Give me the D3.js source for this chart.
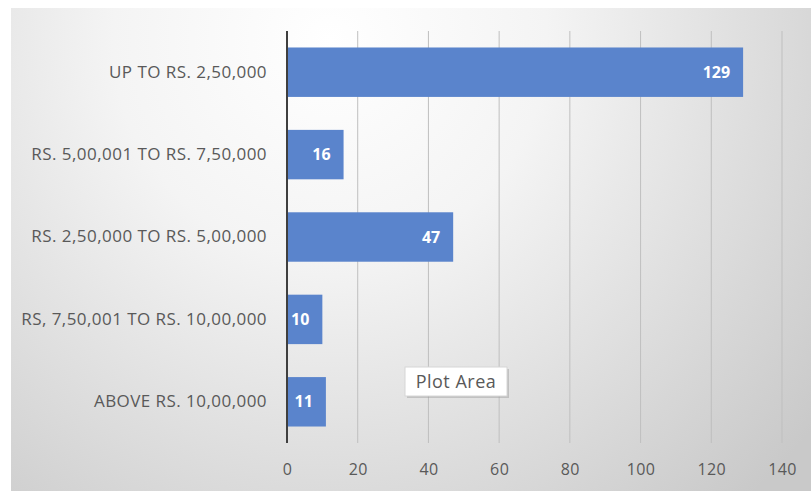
<!DOCTYPE html>
<html>
<head>
<meta charset="utf-8">
<script src="https://cdn.jsdelivr.net/npm/d3@7"></script>
<style>
  html, body { margin: 0; padding: 0; background: #ffffff; }
  svg { display: block; }
</style>
</head>
<body>
<svg id="chart" width="811" height="491"></svg>
<script>
// Income groups (top to bottom) and number of respondents in each
const categories = [
  "UP TO RS. 2,50,000",
  "RS. 5,00,001 TO RS. 7,50,000",
  "RS. 2,50,000 TO RS. 5,00,000",
  "RS, 7,50,001 TO RS. 10,00,000",
  "ABOVE RS. 10,00,000"
];
const values = [129, 16, 47, 10, 11];
const xTicks = [0, 20, 40, 60, 80, 100, 120, 140];

const W = 811, H = 491;
const margin = { top: 31, right: 29, bottom: 48, left: 287 };
const svg = d3.select("#chart");

// Chart area background: soft white-to-grey shading
const defs = svg.append("defs");
const grad = defs.append("radialGradient")
  .attr("id", "bg").attr("gradientUnits", "userSpaceOnUse")
  .attr("cx", 330).attr("cy", 40).attr("r", 620);
grad.append("stop").attr("offset", "0%").attr("stop-color", "#ffffff");
grad.append("stop").attr("offset", "35%").attr("stop-color", "#f4f4f4");
grad.append("stop").attr("offset", "100%").attr("stop-color", "#c9c9c9");

svg.append("rect").attr("x", 11).attr("y", 8).attr("width", W - 11).attr("height", H - 8)
  .attr("fill", "url(#bg)");

const x = d3.scaleLinear().domain([0, 140]).range([margin.left, W - margin.right]);
const y = d3.scaleBand().domain(categories)
  .range([margin.top, H - margin.bottom]).paddingInner(0.4).paddingOuter(0.2);

const font = "'Open Sans', 'Noto Sans', sans-serif";

// Vertical gridlines
svg.append("g").selectAll("line").data(xTicks.slice(1)).join("line")
  .attr("x1", d => x(d)).attr("x2", d => x(d))
  .attr("y1", margin.top).attr("y2", H - margin.bottom)
  .attr("stroke", "#bfbfbf").attr("stroke-width", 1);

// X tick labels
const xAxis = svg.append("g")
  .attr("transform", `translate(0,${H - margin.bottom})`)
  .call(d3.axisBottom(x).tickValues(xTicks).tickSize(0).tickPadding(21));
xAxis.select(".domain").remove();
xAxis.selectAll("text").attr("fill", "#595959")
  .style("font-family", font).style("font-size", "16px").style("letter-spacing", "0.4px");

// Bars
svg.append("g").selectAll("rect").data(values).join("rect")
  .attr("x", x(0))
  .attr("y", (d, i) => y(categories[i]))
  .attr("width", d => x(d) - x(0))
  .attr("height", y.bandwidth())
  .attr("fill", "#5a84cc");

// Value labels inside the bar ends
svg.append("g").selectAll("text").data(values).join("text")
  .attr("x", d => x(d) - 13)
  .attr("y", (d, i) => y(categories[i]) + y.bandwidth() / 2)
  .attr("dy", "0.35em")
  .attr("text-anchor", "end")
  .attr("fill", "#ffffff")
  .style("font-family", font).style("font-size", "16px").style("font-weight", "bold")
  .text(d => d);

// Category axis
const yAxis = svg.append("g")
  .attr("transform", `translate(${margin.left},0)`)
  .call(d3.axisLeft(y).tickSize(0).tickPadding(20));
yAxis.select(".domain").attr("stroke", "#3f3f3f").attr("stroke-width", 2)
  .attr("d", `M0,${margin.top}V${H - margin.bottom}`);
yAxis.selectAll("text").attr("fill", "#595959")
  .style("font-family", font).style("font-size", "17px").style("letter-spacing", "0.45px");

// "Plot Area" hover label
const tip = svg.append("g").attr("transform", "translate(405,367)");
tip.append("rect").attr("x", 2).attr("y", 2).attr("width", 102).attr("height", 29)
  .attr("fill", "#9a9a9a").attr("opacity", 0.45);
tip.append("rect").attr("width", 102).attr("height", 29)
  .attr("fill", "#ffffff").attr("stroke", "#d6d6d6");
tip.append("text").attr("x", 51).attr("y", 14.5).attr("dy", "0.35em")
  .attr("text-anchor", "middle").attr("fill", "#595959")
  .style("font-family", font).style("font-size", "18px").style("letter-spacing", "0.5px")
  .text("Plot Area");
</script>
</body>
</html>
